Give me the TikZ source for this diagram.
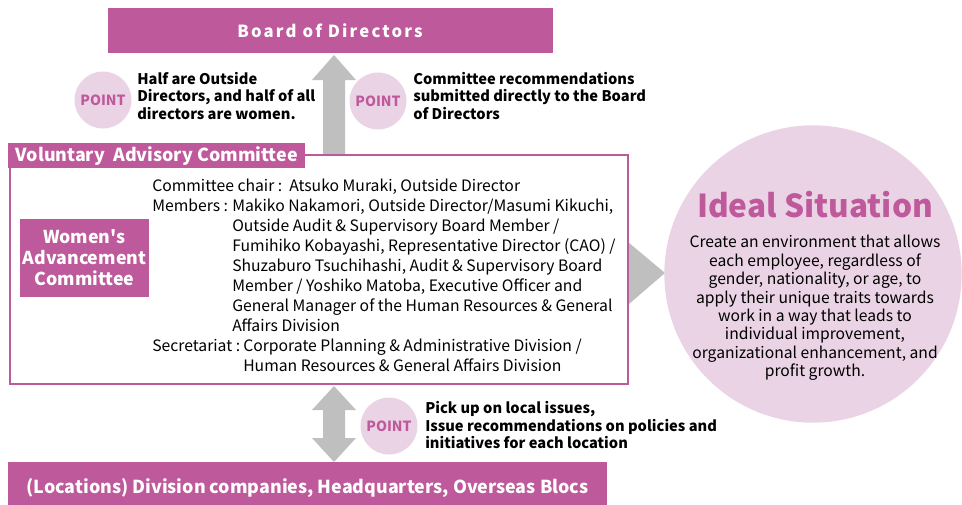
\documentclass[tikz,border=0pt]{standalone}
\usepackage{fontspec}
\setmainfont{Noto Sans CJK JP}
\usetikzlibrary{positioning}
\definecolor{rosa}{HTML}{BE5A9B}
\definecolor{rosaclaro}{HTML}{EBD3E6}
\definecolor{gris}{HTML}{BEBFBE}

\begin{document}
\begin{tikzpicture}[x=0.75pt,y=-0.75pt,
	caja/.style={fill=rosa,text=white,inner sep=0pt,font=\bfseries\fontsize{13.4}{16}\selectfont},
	punto/.style={circle,fill=rosaclaro,text=rosa,minimum size=42.75pt,inner sep=0pt,font=\bfseries\fontsize{10.5}{12}\selectfont},
	nota/.style={anchor=west,align=left,inner sep=0pt,font=\bfseries\fontsize{11}{13}\selectfont},
	flecha/.style={fill=gris}]
		\useasboundingbox (0,0) rectangle (962,504);
		\def\ax{334}
		\def\sw{11}
		\def\hw{22}
		% flechas
		\fill[flecha] (\ax-\sw,160) -- (\ax-\sw,80) -- (\ax-\hw,80) -- (\ax,55) -- (\ax+\hw,80) -- (\ax+\sw,80) -- (\ax+\sw,160) -- cycle;
		\fill[flecha] (\ax,386) -- (\ax+\hw,410) -- (\ax+\sw,410) -- (\ax+\sw,438) -- (\ax+\hw,438) -- (\ax,462)
		-- (\ax-\hw,438) -- (\ax-\sw,438) -- (\ax-\sw,410) -- (\ax-\hw,410) -- cycle;
		\fill[flecha] (622,237) -- (665,273) -- (622,310) -- cycle;
		% cajas
		\node[caja,minimum width=333.75pt,minimum height=33.75pt,font=\bfseries\fontsize{12.5}{15}\selectfont\addfontfeature{LetterSpace=13}] (board) at (330,30.5) {Board of Directors};
		\node[draw=rosa,line width=1.5pt,fill=white,anchor=north west,minimum width=463.5pt,minimum height=171.75pt] (marco) at (9,154) {};
		\node[caja,anchor=north west,minimum width=222.75pt,minimum height=18.75pt] (vac) at (8,143) {Voluntary\ \ Advisory Committee};
		\node[caja,align=center,minimum width=96.75pt,minimum height=58.5pt,font=\bfseries\fontsize{13.3}{15.75}\selectfont] (wac) at (84.5,258) {Women\textquotesingle s\\Advancement\\Committee};
		\node[anchor=north west,align=left,inner sep=0pt,font=\fontsize{11.8}{15}\selectfont] (miembros) at (152,179) {%
			\makebox[102.75pt][l]{Committee chair :}Atsuko Muraki, Outside Director\\
			\makebox[60pt][l]{Members :}Makiko Nakamori, Outside Director/Masumi Kikuchi,\\
			\hspace*{60pt}Outside Audit \& Supervisory Board Member /\\
			\hspace*{60pt}Fumihiko Kobayashi, Representative Director (CAO) /\\
			\hspace*{60pt}Shuzaburo Tsuchihashi, Audit \& Supervisory Board\\
			\hspace*{60pt}Member / Yoshiko Matoba, Executive Officer and\\
			\hspace*{60pt}General Manager of the Human Resources \& General\\
			\hspace*{60pt}Affairs Division\\
			\makebox[68.25pt][l]{Secretariat :}Corporate Planning \& Administrative Division /\\
			\hspace*{68.25pt}Human Resources \& General Affairs Division};
		\node[caja,minimum width=449.25pt,minimum height=39pt] (sedes) at (307.5,488) {(Locations) Division companies, Headquarters, Overseas Blocs};
		% situacion ideal
		\node[circle,fill=rosaclaro,minimum size=223pt,inner sep=0pt] (ideal) at (813,274) {};
		\node[text=rosa,font=\bfseries\fontsize{23.7}{26}\selectfont] (titulo) at (815,205) {Ideal Situation};
		\node[align=center,font=\fontsize{11.75}{13.8}\selectfont] (texto) at (815,308) {Create an environment that allows\\each employee, regardless of\\gender, nationality, or age, to\\apply their unique traits towards\\work in a way that leads to\\individual improvement,\\organizational enhancement, and\\profit growth.};
		% puntos
		\node[punto] (p1) at (103,100) {POINT};
		\node[nota] (n1) at (137,96) {Half are Outside\\Directors, and half of all\\directors are women.};
		\node[punto] (p2) at (378,101) {POINT};
		\node[nota] (n2) at (413,96) {Committee recommendations\\submitted directly to the Board\\of Directors};
		\node[punto] (p3) at (389,426) {POINT};
		\node[nota] (n3) at (425,425) {Pick up on local issues,\\Issue recommendations on policies and\\initiatives for each location};
		\end{tikzpicture}
\end{document}
